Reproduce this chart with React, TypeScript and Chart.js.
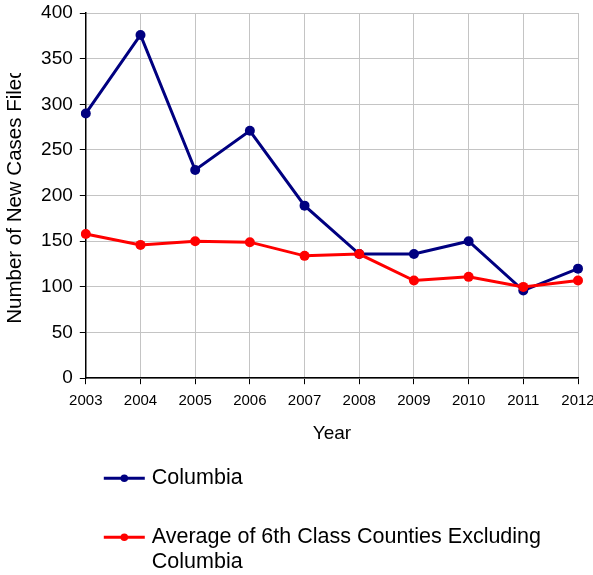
import React, { useEffect, useRef } from 'react';
import { Chart, registerables } from 'chart.js';

Chart.register(...registerables);

const years = ['2003', '2004', '2005', '2006', '2007', '2008', '2009', '2010', '2011', '2012'];
const columbia = [290, 376, 228, 271, 189, 136, 136, 150, 96, 120];
const sixthClassAverage = [158, 146, 150, 149, 134, 136, 107, 111, 100, 107];
const seriesNames = ['Columbia', 'Average of 6th Class Counties Excluding Columbia'];
const legendLines = [['Columbia'], ['Average of 6th Class Counties Excluding', 'Columbia']];
const yTitle = 'Number of New Cases Filed';
const xTitle = 'Year';

const FONT = '"Liberation Sans", Arial, sans-serif';

// Mimic the text-box clipping of the vertical axis title in the original
const titleClipPlugin = {
  id: 'titleClip',
  beforeDraw(chart: any) {
    const { ctx, width, height } = chart;
    ctx.save();
    ctx.beginPath();
    ctx.rect(0, 0, width, height);
    ctx.rect(0, 0, 34, 73);
    ctx.clip('evenodd');
  },
  afterDatasetsDraw(chart: any) {
    chart.ctx.restore();
  },
};

const legendPlugin = {
  id: 'customLegend',
  afterDraw(chart: any) {
    const { ctx, chartArea } = chart;
    const x0 = chartArea.left + 18;
    const rows = [chartArea.bottom + 100, chartArea.bottom + 159];
    chart.data.datasets.forEach((ds: any, i: number) => {
      const y = rows[i];
      ctx.save();
      ctx.strokeStyle = ds.borderColor;
      ctx.lineWidth = 3;
      ctx.beginPath();
      ctx.moveTo(x0, y);
      ctx.lineTo(x0 + 41, y);
      ctx.stroke();
      ctx.fillStyle = ds.pointBackgroundColor;
      ctx.beginPath();
      ctx.arc(x0 + 20.5, y, 3.8, 0, Math.PI * 2);
      ctx.fill();
      ctx.fillStyle = '#000';
      ctx.font = `21.5px ${FONT}`;
      ctx.textBaseline = 'middle';
      ctx.textAlign = 'left';
      legendLines[i].forEach((t, j) => ctx.fillText(t, x0 + 48, y + j * 25));
      ctx.restore();
    });
  },
};

export default function App() {
  const ref = useRef<HTMLCanvasElement | null>(null);

  useEffect(() => {
    document.body.style.margin = '0';
    if (!ref.current) return;
    const chart = new Chart(ref.current, {
      type: 'line',
      data: {
        labels: years,
        datasets: [
          {
            label: seriesNames[0],
            data: columbia,
            borderColor: '#000080',
            backgroundColor: '#000080',
            pointBackgroundColor: '#000080',
            pointBorderColor: '#000080',
            borderWidth: 3,
            pointRadius: 5,
            pointBorderWidth: 0,
            tension: 0,
            order: 2,
          },
          {
            label: seriesNames[1],
            data: sixthClassAverage,
            borderColor: '#ff0000',
            backgroundColor: '#ff0000',
            pointBackgroundColor: '#ff0000',
            pointBorderColor: '#ff0000',
            borderWidth: 3,
            pointRadius: 5,
            pointBorderWidth: 0,
            tension: 0,
            order: 1,
          },
        ],
      },
      options: {
        responsive: false,
        animation: false,
        layout: { padding: { top: 13, left: 0, right: 0, bottom: 126 } },
        plugins: {
          legend: { display: false },
          tooltip: { enabled: false },
        },
        scales: {
          x: {
            offset: false,
            afterFit: (scale: any) => {
              scale.paddingRight = 15;
            },
            grid: { color: '#c4c4c4', lineWidth: 1, tickLength: 6, tickColor: '#000' },
            border: { color: '#000', width: 1.5 },
            ticks: {
              color: '#000',
              padding: 8,
              maxRotation: 0,
              autoSkip: false,
              font: { family: FONT, size: 15 },
            },
            title: {
              display: true,
              text: xTitle,
              color: '#000',
              font: { family: FONT, size: 19 },
              padding: { top: 4, bottom: 4 },
            },
          },
          y: {
            min: 0,
            max: 400,
            afterFit: (scale: any) => {
              scale.paddingTop = 11;
              scale.paddingBottom = 11;
            },
            grid: { color: '#c4c4c4', lineWidth: 1, tickLength: 6, tickColor: '#000' },
            border: { color: '#000', width: 1.5 },
            ticks: {
              stepSize: 50,
              color: '#000',
              padding: 7,
              font: { family: FONT, size: 19 },
            },
            title: {
              display: true,
              text: yTitle,
              color: '#000',
              font: { family: FONT, size: 20.5 },
              padding: { top: 3, bottom: 6.5 },
            },
          },
        },
      },
      plugins: [titleClipPlugin, legendPlugin],
    });
    return () => chart.destroy();
  }, []);

  return <canvas ref={ref} width={593} height={575} style={{ display: 'block' }} />;
}
